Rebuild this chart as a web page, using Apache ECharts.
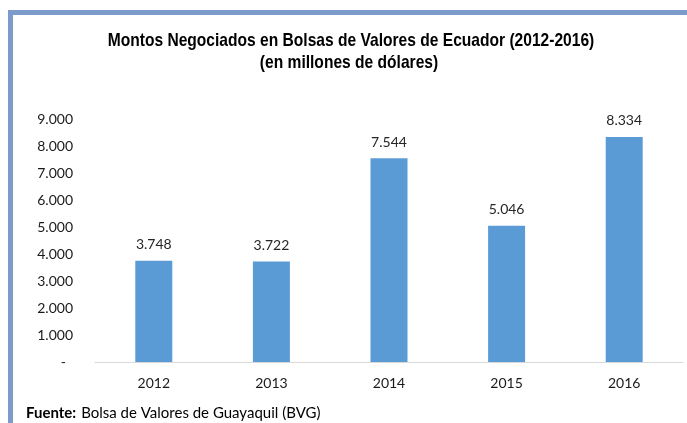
<!DOCTYPE html>
<html>
<head>
<meta charset="utf-8">
<script src="https://cdn.jsdelivr.net/npm/echarts@6/dist/echarts.min.js"></script>
<style>
  html, body { margin: 0; padding: 0; background: #fff; }
  #chart { width: 687px; height: 423px; }
</style>
</head>
<body>
<div id="chart"></div>
<script>
var years = ['2012', '2013', '2014', '2015', '2016'];
var montos = [3748, 3722, 7544, 5046, 8334];
var titulo = 'Montos Negociados en Bolsas de Valores de Ecuador (2012-2016)';
var subtitulo = '(en millones de dólares)';

// formato con punto de miles, el cero como guion
function miles(v) {
  if (v === 0) return '-  ';
  return String(v).replace(/\B(?=(\d{3})+(?!\d))/g, '.');
}

var myChart = echarts.init(document.getElementById('chart'));
var tituloFont = 'bold 19px "Liberation Sans", Arial, sans-serif';
var option = {
  backgroundColor: '#ffffff',
  animation: false,
  title: [
    {
      text: '{b|Fuente:} {n|Bolsa de Valores de Guayaquil (BVG)}',
      left: 21,
      top: 399,
      padding: 5,
      textStyle: {
        fontWeight: 'normal',
        rich: {
          b: { fontFamily: 'Lato', fontSize: 15, fontWeight: 'bold', color: '#000' },
          n: { fontFamily: 'Lato', fontSize: 15, fontWeight: 'normal', color: '#000' }
        }
      }
    }
  ],
  graphic: [
    { type: 'rect', shape: { x: 8, y: 10, width: 679, height: 5 }, style: { fill: '#7b9bcb' } },
    { type: 'rect', shape: { x: 8, y: 10, width: 5, height: 413 }, style: { fill: '#7b9bcb' } },
    // titulo angosto, como Arial Narrow
    {
      type: 'text', x: 351, y: 50, scaleX: 0.82,
      style: { text: titulo, font: tituloFont, fill: '#000', textAlign: 'center', textVerticalAlign: 'bottom' }
    },
    {
      type: 'text', x: 349, y: 72, scaleX: 0.82,
      style: { text: subtitulo, font: tituloFont, fill: '#000', textAlign: 'center', textVerticalAlign: 'bottom' }
    }
  ],
  grid: {
    left: 95,
    right: 4,
    top: 119,
    bottom: 61
  },
  xAxis: {
    type: 'category',
    data: years,
    axisLine: { lineStyle: { color: '#d9d9d9', width: 1 } },
    axisTick: { show: false },
    axisLabel: {
      margin: 14,
      fontFamily: 'Lato',
      fontSize: 14,
      color: '#1a1a1a'
    }
  },
  yAxis: {
    type: 'value',
    min: 0,
    max: 9000,
    interval: 1000,
    splitLine: { show: false },
    axisLine: { show: false },
    axisTick: { show: false },
    axisLabel: {
      margin: 22,
      fontFamily: 'Lato',
      fontSize: 14,
      color: '#1a1a1a',
      formatter: miles
    }
  },
  series: [
    {
      type: 'bar',
      data: montos,
      barWidth: 37,
      itemStyle: { color: '#5b9bd5' },
      label: {
        show: true,
        position: 'top',
        distance: 9,
        fontFamily: 'Lato',
        fontSize: 14,
        color: '#262626',
        formatter: function (p) { return miles(p.value); }
      }
    }
  ]
};
myChart.setOption(option);
</script>
</body>
</html>
